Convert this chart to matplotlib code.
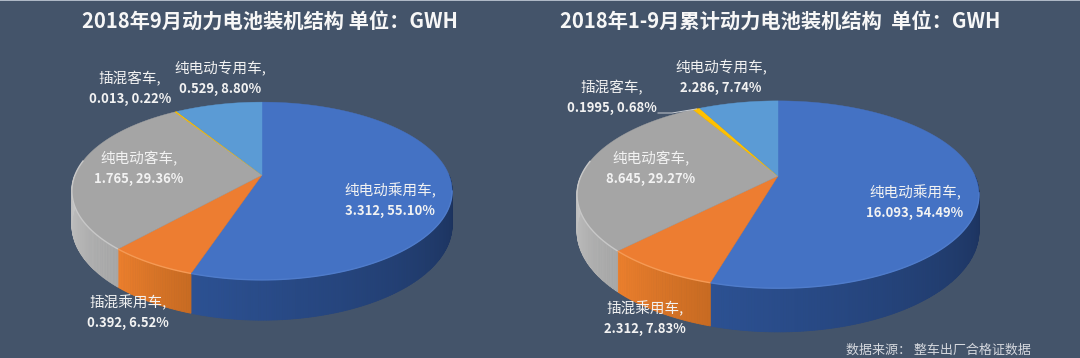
import numpy as np
import matplotlib
matplotlib.use("Agg")
import matplotlib.pyplot as plt
from matplotlib.colors import to_rgb

plt.rcParams['font.family'] = ['Noto Sans CJK SC', 'DejaVu Sans']

# data
categories = ["纯电动乘用车", "插混乘用车", "纯电动客车", "插混客车", "纯电动专用车"]
sep_values = [3.312, 0.392, 1.765, 0.013, 0.529]
sep_labels = ["3.312, 55.10%", "0.392, 6.52%", "1.765, 29.36%", "0.013, 0.22%", "0.529, 8.80%"]
ytd_values = [16.093, 2.312, 8.645, 0.1995, 2.286]
ytd_labels = ["16.093, 54.49%", "2.312, 7.83%", "8.645, 29.27%", "0.1995, 0.68%", "2.286, 7.74%"]
sep_title = "2018年9月动力电池装机结构 单位：GWH"
ytd_title = "2018年1-9月累计动力电池装机结构  单位：GWH"
source_text = "数据来源： 整车出厂合格证数据"

# styles
BG = "#44546A"
top_colors = ["#4472C4", "#ED7D31", "#A5A5A5", "#FFC000", "#5B9BD5"]
# side colours, from the right-hand end of the wedge to its left-hand end
side_colors = [("#1A2F57", "#2C5193"), ("#C86B22", "#EC7F2D"), ("#A8A8A8", "#C4C4C4"),
               ("#C09000", "#C09000"), ("#3C6E9E", "#3C6E9E")]
rim_colors = ["#4F7CCB", "#F59A55", "#C8C8C8", "#FFC000", "#5B9BD5"]

# pixel geometry of the two pies: apex x/y, radius, vertical scale, perspective, depth
sep_geom = dict(cx=262, cy=175, r=187, k=86, p=0.18, d=33)
ytd_geom = dict(cx=778, cy=176, r=197, k=90, p=0.198, d=35)
sep_label_xy = [(390, 191), (128, 303), (139, 159), (130, 79), (220, 69)]
ytd_label_xy = [(915, 193), (645, 309), (651, 159), (612, 88), (721, 68)]


def project(theta, g, radius=1.0, depth=0.0):
    # theta in degrees, clockwise from 12 o'clock, onto a tilted disc
    t = np.radians(theta)
    xx = radius * np.sin(t)
    yy = radius * np.cos(t)
    w = 1 + g["p"] * yy
    return g["cx"] + g["r"] * xx / w, g["cy"] - g["k"] * yy / w + depth / w


def mix(c1, c2, t):
    a, b = np.array(to_rgb(c1)), np.array(to_rgb(c2))
    return tuple(a + (b - a) * t)


def draw_pie(ax, values, g):
    values = np.array(values, dtype=float)
    edges = np.concatenate([[0], np.cumsum(values) / values.sum() * 360])

    # side wall first, in thin strips so it can be shaded
    for i in range(len(values)):
        a0, a1 = max(edges[i], 90), min(edges[i + 1], 270)
        if a1 <= a0:
            continue
        n = max(int((a1 - a0) * 1.5), 1)
        steps = np.linspace(a0, a1, n + 1)
        for j in range(n):
            th = np.linspace(steps[j], steps[j + 1], 4)
            x1, y1 = project(th, g)
            x2, y2 = project(th[::-1], g, depth=g["d"])
            c = mix(*side_colors[i], j / n)
            ax.fill(np.r_[x1, x2], np.r_[y1, y2], fc=c, ec=c, lw=0.6, zorder=2)

    # top faces
    for i in range(len(values)):
        th = np.linspace(edges[i], edges[i + 1], max(int(values[i] / values.sum() * 360), 3) + 1)
        x, y = project(th, g)
        ax.fill(np.r_[g["cx"], x], np.r_[g["cy"], y], color=top_colors[i], lw=0.3,
                ec=top_colors[i], zorder=3)
        # lit edge along the front of the disc
        a0, a1 = max(edges[i], 100), min(edges[i + 1], 280)
        if a1 > a0:
            xr, yr = project(np.linspace(a0, a1, 60), g)
            ax.plot(xr, yr, color=rim_colors[i], lw=1.0, zorder=4, solid_capstyle="butt")
    return edges


def draw_labels(ax, labels, xy):
    for name, lab, (x, y) in zip(categories, labels, xy):
        ax.text(x, y, name + ",", color="#F2F2F2", fontsize=10.5, ha="center", va="center", zorder=6)
        ax.text(x, y + 20, lab, color="#F2F2F2", fontsize=9.4, fontweight="bold",
                ha="center", va="center", zorder=6)


fig = plt.figure(figsize=(10.8, 3.58), dpi=100, facecolor=BG)
ax = fig.add_axes([0, 0, 1, 1])
ax.set_xlim(0, 1080)
ax.set_ylim(358, 0)
ax.axis("off")
ax.axhspan(0, 1, color="#AEB8C6", lw=0)

draw_pie(ax, sep_values, sep_geom)
edges = draw_pie(ax, ytd_values, ytd_geom)
draw_labels(ax, sep_labels, sep_label_xy)
draw_labels(ax, ytd_labels, ytd_label_xy)

# leader for the tiny slice in the second pie
lx, ly = project((edges[3] + edges[4]) / 2, ytd_geom)
ax.plot([658, 672, lx], [113, 113, ly], color="#C8CCD2", lw=0.7, zorder=5)

ax.text(269.5, 22, sep_title, color="#F7F7F7", fontsize=14.6, fontweight="bold", ha="center", va="center")
ax.text(780, 22, ytd_title, color="#F7F7F7", fontsize=14.6, fontweight="bold", ha="center", va="center")
ax.text(938, 350, source_text, color="#D5D8DE", fontsize=9.4, ha="center", va="center")

fig.savefig("out.png", dpi=100, facecolor=BG)
